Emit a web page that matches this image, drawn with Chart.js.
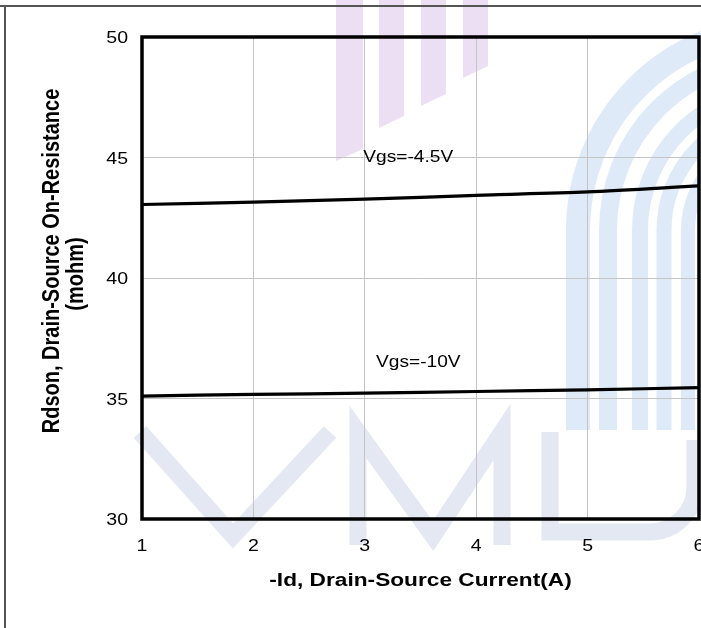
<!DOCTYPE html>
<html>
<head>
<meta charset="utf-8">
<script src="https://cdn.jsdelivr.net/npm/chart.js@4.4.1/dist/chart.umd.min.js"></script>
<style>
  html, body { margin: 0; padding: 0; background: #fff; }
  #wrap { width: 701px; height: 628px; position: relative; overflow: hidden; }
</style>
</head>
<body>
<div id="wrap"><canvas id="rdsonChart" width="701" height="628"></canvas></div>
<script>
// values
const currentA = [1, 2, 3, 4, 5, 6];
const rdsonVgs45 = [43.05, 43.15, 43.27, 43.43, 43.57, 43.82];
const rdsonVgs10 = [35.10, 35.17, 35.22, 35.29, 35.36, 35.45];
const seriesNames = ['Vgs=-4.5V', 'Vgs=-10V'];
const xTicks = [1, 2, 3, 4, 5, 6];
const yTicks = [30, 35, 40, 45, 50];
const xTitle = '-Id, Drain-Source Current(A)';
const yTitle = ['Rdson, Drain-Source On-Resistance', '(mohm)'];
// curve label anchors, in data units
const labelAt = [{ x: 3.39, y: 45.0 }, { x: 3.48, y: 36.5 }];

const FONT = '"Liberation Sans", Arial, sans-serif';

// the scanned page text is a bit wider than plain Arial, so stretch it
function stretchText(ctx, text, x, y, font, sx, align) {
  ctx.save();
  ctx.translate(x, y);
  ctx.scale(sx, 1);
  ctx.font = font;
  ctx.textAlign = align || 'center';
  ctx.textBaseline = 'middle';
  ctx.fillText(text, 0, 0);
  ctx.restore();
}

// faint VMD logo behind the plot
const watermark = {
  id: 'watermark',
  beforeDraw(chart) {
    const ctx = chart.ctx;
    ctx.save();

    // purple bars at the top
    ctx.fillStyle = '#ecdff4';
    const bars = [[336, 363, 155], [379, 404, 122], [421, 446, 100], [463, 488, 72]];
    bars.forEach(([x1, x2, b]) => {
      ctx.beginPath();
      ctx.moveTo(x1, 0);
      ctx.lineTo(x2, 0);
      ctx.lineTo(x2, b - 6);
      ctx.lineTo(x1, b + 6);
      ctx.closePath();
      ctx.fill();
    });

    // blue arches on the right
    ctx.strokeStyle = '#dfeaf8';
    const cx = 780, cy = 230;
    [[202, 24], [172, 18], [140, 16], [116, 15], [92, 14]].forEach(([r, w]) => {
      ctx.lineWidth = w;
      ctx.beginPath();
      ctx.moveTo(cx - r, 430);
      ctx.lineTo(cx - r, cy);
      ctx.arc(cx, cy, r, Math.PI, Math.PI * 1.5);
      ctx.stroke();
    });

    // V M D letters
    ctx.strokeStyle = '#e4e8f3';
    ctx.lineWidth = 17;
    ctx.lineJoin = 'miter';
    ctx.beginPath();
    ctx.moveTo(140, 432); ctx.lineTo(233, 536); ctx.lineTo(330, 432);
    ctx.stroke();
    ctx.beginPath();
    ctx.moveTo(358, 545); ctx.lineTo(358, 432); ctx.lineTo(433, 536);
    ctx.lineTo(502, 432); ctx.lineTo(502, 545);
    ctx.stroke();
    ctx.beginPath();
    ctx.moveTo(550, 432); ctx.lineTo(550, 532); ctx.lineTo(650, 532);
    ctx.arc(650, 487, 45, Math.PI / 2, 0, true);
    ctx.lineTo(695, 440);
    ctx.stroke();

    ctx.restore();
  }
};

// heavy box round the plot, page frame, tick labels, titles, curve labels
const decorations = {
  id: 'decorations',
  afterDraw(chart) {
    const ctx = chart.ctx;
    const { left, top, right, bottom } = chart.chartArea;
    const xs = chart.scales.x, ys = chart.scales.y;
    ctx.save();

    ctx.strokeStyle = '#000';
    ctx.lineWidth = 3.5;
    ctx.strokeRect(left, top, right - left, bottom - top);

    ctx.strokeStyle = '#555';
    ctx.lineWidth = 2;
    ctx.beginPath();
    ctx.moveTo(0, 6); ctx.lineTo(701, 6);
    ctx.moveTo(5, 6); ctx.lineTo(5, 628);
    ctx.stroke();

    ctx.fillStyle = '#000';
    const tickFont = '17px ' + FONT;
    yTicks.forEach((v) => {
      stretchText(ctx, String(v), left - 14, ys.getPixelForValue(v) + 1.5, tickFont, 1.15, 'right');
    });
    xTicks.forEach((v) => {
      stretchText(ctx, String(v), xs.getPixelForValue(v), bottom + 27, tickFont, 1.15, 'center');
    });

    stretchText(ctx, xTitle, (left + right) / 2, 581.5, 'bold 18px ' + FONT, 1.26, 'center');

    // rotated y title, widened across its thickness only
    const yLines = [[53, 261], [77, 274]];
    yTitle.forEach((t, i) => {
      ctx.save();
      ctx.translate(yLines[i][0], yLines[i][1]);
      ctx.scale(1.15, 1);
      ctx.rotate(-Math.PI / 2);
      ctx.font = 'bold 20px ' + FONT;
      ctx.textAlign = 'center';
      ctx.textBaseline = 'middle';
      ctx.fillText(t, 0, 0);
      ctx.restore();
    });

    labelAt.forEach((p, i) => {
      stretchText(ctx, seriesNames[i], xs.getPixelForValue(p.x), ys.getPixelForValue(p.y), '17px ' + FONT, 1.125, 'center');
    });

    ctx.restore();
  }
};

const toPoints = (ys) => currentA.map((x, i) => ({ x: x, y: ys[i] }));

new Chart(document.getElementById('rdsonChart').getContext('2d'), {
  type: 'line',
  data: {
    datasets: [
      { label: seriesNames[0], data: toPoints(rdsonVgs45), borderColor: '#000', borderWidth: 3.2, pointRadius: 0, tension: 0.3, fill: false },
      { label: seriesNames[1], data: toPoints(rdsonVgs10), borderColor: '#000', borderWidth: 3.2, pointRadius: 0, tension: 0.3, fill: false },
    ],
  },
  options: {
    responsive: false,
    animation: false,
    layout: { padding: { top: 37, right: 2, left: 0, bottom: 0 } },
    plugins: { legend: { display: false }, tooltip: { enabled: false } },
    scales: {
      x: {
        type: 'linear',
        min: 1,
        max: 6,
        afterBuildTicks: (s) => { s.ticks = xTicks.map((v) => ({ value: v })); },
        afterFit: (s) => { s.height = 109; s.paddingLeft = 0; s.paddingRight = 0; },
        ticks: { display: false },
        grid: { color: '#c4c4c4', lineWidth: 1, drawTicks: false },
        border: { display: false },
      },
      y: {
        min: 30,
        max: 50,
        afterBuildTicks: (s) => { s.ticks = yTicks.map((v) => ({ value: v })); },
        afterFit: (s) => { s.width = 142; s.paddingTop = 0; s.paddingBottom = 0; },
        ticks: { display: false },
        grid: { color: '#c4c4c4', lineWidth: 1, drawTicks: false },
        border: { display: false },
      },
    },
  },
  plugins: [watermark, decorations],
});
</script>
</body>
</html>
